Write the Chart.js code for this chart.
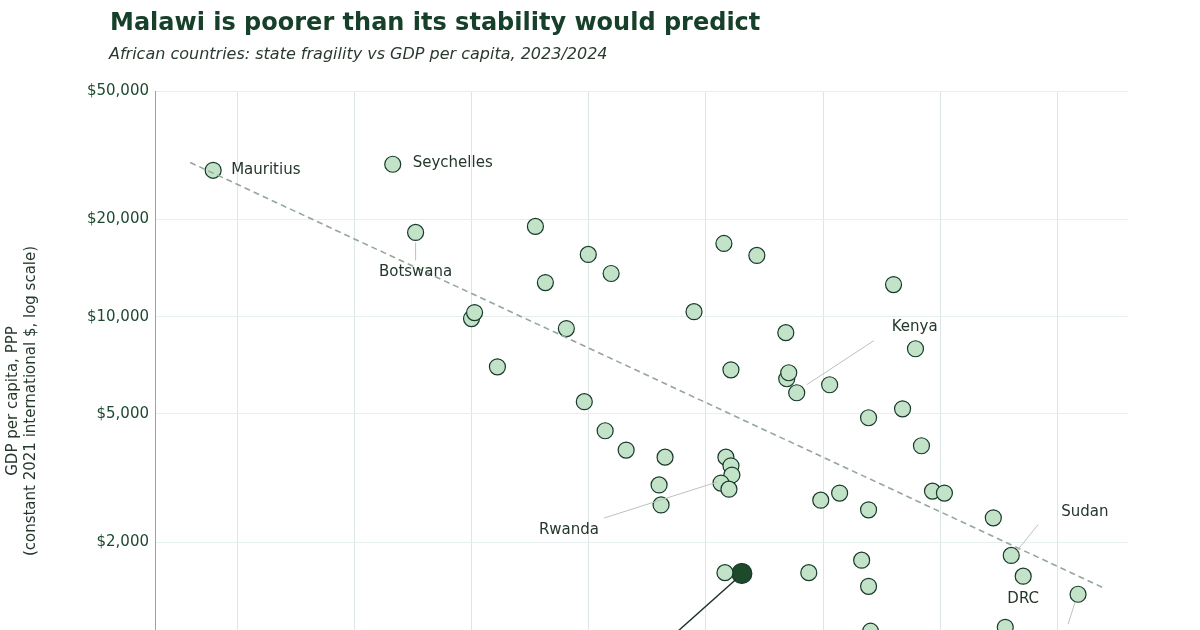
<!DOCTYPE html>
<html>
<head>
<meta charset="utf-8">
<script src="https://cdn.jsdelivr.net/npm/chart.js@4"></script>
<style>
  html, body { margin: 0; padding: 0; background: #fff; overflow: hidden; width: 1200px; height: 630px; }
  #title { position: absolute; left: 110px; top: 8px; font: bold 24px "DejaVu Sans"; color: #17402a; }
  #subtitle { position: absolute; left: 109px; top: 44px; font: oblique 16px "DejaVu Sans"; color: #2a3a30; }
  #wrap { position: absolute; left: 0; top: 0; width: 1200px; height: 760px; }
</style>
</head>
<body>
<div id="wrap"><canvas id="chart"></canvas></div>
<div id="title">Malawi is poorer than its stability would predict</div>
<div id="subtitle">African countries: state fragility vs GDP per capita, 2023/2024</div>
<script>
// fragility index (x) and GDP per capita PPP (y)
const fragility = [37.96, 53.28, 55.23, 65.45, 69.96, 84.34, 81.53, 71.91, 66.3, 96.0,
  60.0, 60.26, 78.98, 68.09, 86.81, 97.87, 62.21, 82.13, 86.89, 87.06,
  87.74, 90.55, 69.62, 96.77, 93.87, 71.4, 98.38, 73.19, 76.51, 81.7,
  82.13, 82.21, 76.0, 81.28, 81.96, 99.32, 100.34, 91.4, 89.79, 76.17,
  93.87, 104.51, 106.04, 93.28, 81.62, 88.77, 107.06, 93.87, 111.74, 105.53, 94.04];
const gdp = [28400, 29650, 18230, 19030, 15580, 15470, 16850, 13600, 12750, 12570,
  9860, 10290, 10360, 9180, 8920, 7950, 6990, 6840, 6420, 6700,
  5810, 6150, 5450, 5180, 4860, 4430, 3980, 3860, 3670, 3670,
  3450, 3230, 3010, 3050, 2920, 2880, 2840, 2840, 2700, 2610,
  2520, 2380, 1820, 1760, 1610, 1610, 1570, 1460, 1380, 1090, 1060];
const malawi = { x: 83.06, y: 1600 };
const trendX = [36.0, 113.8];
const trendY = [30040, 1451];
const yTicks = [500, 1000, 2000, 5000, 10000, 20000, 50000];
const xTicks = [40, 50, 60, 70, 80, 90, 100, 110];

// labels: [point index, text, dx, dy, leader line end dx, dy]
const labels = [
  [0, 'Mauritius', 18, 0, null],
  [1, 'Seychelles', 20, -1, null],
  [2, 'Botswana', 0, 40, [0, 10, 0, 28]],
  [20, 'Kenya', 95, -66, [10, -8, 77, -52]],
  [33, 'Rwanda', -152, 47, [-4, -1, -117, 35]],
  [42, 'Sudan', 50, -43, [6, -5, 27, -31]],
  [46, 'DRC', 0, 23, null],
  [48, 'Somalia', -10, 50, [-3, 8, -10, 30]]
];

const annot = {
  id: 'annot',
  afterDatasetsDraw(chart) {
    const c = chart.ctx;
    const pts = chart.getDatasetMeta(1).data;
    c.save();
    c.font = '15px "DejaVu Sans"';
    c.fillStyle = '#24382b';
    c.textBaseline = 'middle';
    labels.forEach(([i, t, dx, dy, ln]) => {
      const p = pts[i];
      if (ln) {
        c.strokeStyle = '#b8c4bc'; c.lineWidth = 1;
        c.beginPath(); c.moveTo(p.x + ln[0], p.y + ln[1]); c.lineTo(p.x + ln[2], p.y + ln[3]); c.stroke();
      }
      c.textAlign = (dx > 12) ? 'left' : 'center';
      c.fillText(t, p.x + dx, p.y + dy);
    });
    const m = chart.getDatasetMeta(2).data[0];
    c.strokeStyle = '#1a3324'; c.lineWidth = 1.5;
    c.beginPath(); c.moveTo(m.x - 6, m.y + 6); c.lineTo(m.x - 80, m.y + 72); c.stroke();
    c.restore();
  }
};

new Chart(document.getElementById('chart'), {
  type: 'scatter',
  data: {
    datasets: [
      {
        type: 'line',
        data: trendX.map((x, i) => ({ x, y: trendY[i] })),
        borderColor: '#93a89a', borderWidth: 1.6, borderDash: [6, 4],
        pointRadius: 0, fill: false
      },
      {
        data: fragility.map((x, i) => ({ x, y: gdp[i] })),
        backgroundColor: '#c2e3c8', borderColor: '#17382a', borderWidth: 1.2,
        pointRadius: 8
      },
      {
        data: [malawi],
        backgroundColor: '#1e4a2c', borderColor: '#17382a', borderWidth: 1.2,
        pointRadius: 10
      }
    ]
  },
  options: {
    responsive: true, maintainAspectRatio: false, animation: false,
    layout: { padding: { top: 91, right: 72, bottom: 9, left: 0 } },
    plugins: { legend: { display: false }, tooltip: { enabled: false } },
    scales: {
      x: {
        type: 'linear', min: 33, max: 116,
        afterBuildTicks: s => { s.ticks = xTicks.map(v => ({ value: v })); },
        afterFit: s => { s.height = 40; },
        grid: { color: '#dce6e6', drawTicks: false },
        border: { display: false },
        ticks: { color: '#24382b', font: { family: 'DejaVu Sans', size: 14 } }
      },
      y: {
        type: 'logarithmic', min: 600, max: 50000,
        afterBuildTicks: s => { s.ticks = yTicks.map(v => ({ value: v })); },
        afterFit: s => { s.width = 155; },
        grid: { color: '#e6eeee', drawTicks: false },
        border: { color: '#9aa3a0' },
        ticks: {
          color: '#1d4a2f', padding: 6,
          font: { family: 'DejaVu Sans', size: 15 },
          callback: v => '$' + v.toLocaleString('en-US')
        },
        title: {
          display: true,
          text: ['GDP per capita, PPP', '(constant 2021 international $, log scale)'],
          color: '#24382b', font: { family: 'DejaVu Sans', size: 15 }, padding: { bottom: 6 }
        }
      }
    }
  },
  plugins: [annot]
});
</script>
</body>
</html>
